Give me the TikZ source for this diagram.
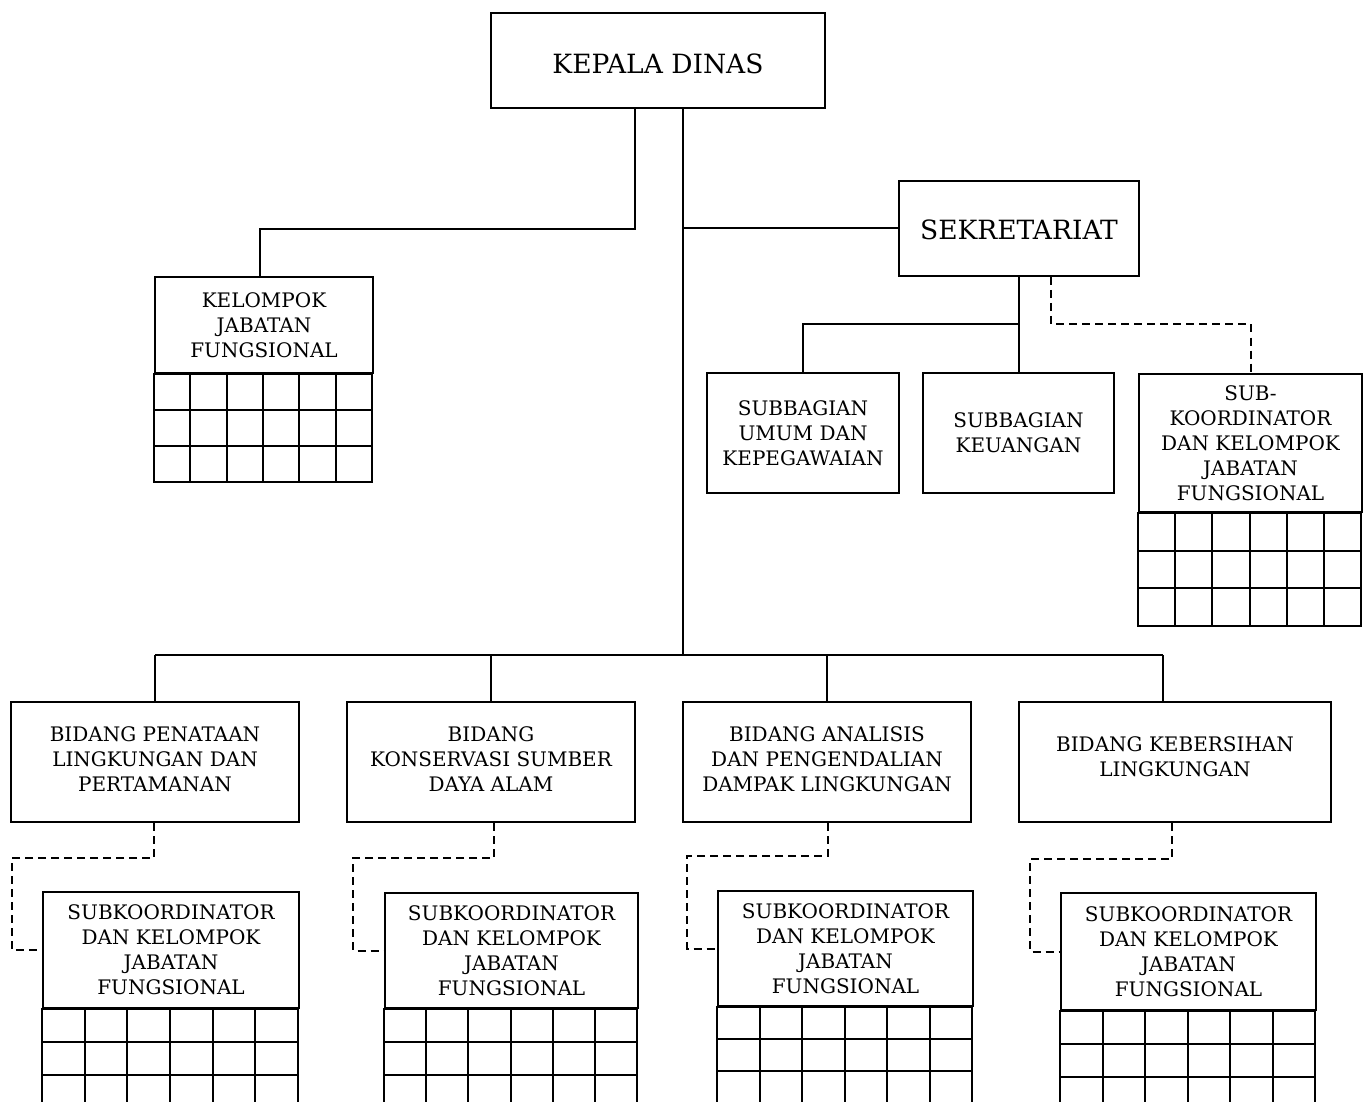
\documentclass[tikz,border=0pt]{standalone}
\usepackage{fontspec}
\setmainfont{DejaVu Serif}
\usetikzlibrary{calc}
\begin{document}
\begin{tikzpicture}[x=1pt,y=-1pt,
  every path/.style={line width=2pt},
  box/.style={draw, line width=2pt, rectangle, inner sep=0pt, align=center,
    font=\fontsize{20}{25}\selectfont},
  bigbox/.style={box, font=\fontsize{26.5}{30}\selectfont},
  dashline/.style={line width=2pt, dash pattern=on 8pt off 5pt},
  gl/.style={line width=2pt}]
\useasboundingbox (0,0) rectangle (1369,1102);
\newcommand\cellgrid[3]{%
  \foreach \c in {0,...,5}{\foreach \r in {0,1,2}{%
    \draw[gl] (#1.south west) ++(\c*#2,\r*#3) rectangle ++(#2,#3);}}}

% nodes
\node[bigbox, minimum width=334pt, minimum height=95pt, text height=27pt] (kd) at (658,60.5) {KEPALA DINAS};
\node[box, minimum width=218pt, minimum height=96pt] (kjf) at (264,325) {KELOMPOK\\JABATAN\\FUNGSIONAL};
\node[bigbox, minimum width=240pt, minimum height=95pt, text height=22pt] (sek) at (1019,228.5) {SEKRETARIAT};
\node[box, minimum width=192pt, minimum height=120pt] (sbu) at (803,433) {SUBBAGIAN\\UMUM DAN\\KEPEGAWAIAN};
\node[box, minimum width=191pt, minimum height=120pt] (sbk) at (1018.5,433) {SUBBAGIAN\\KEUANGAN};
\node[box, minimum width=223pt, minimum height=138pt] (skj) at (1250.5,443) {SUB-\\KOORDINATOR\\DAN KELOMPOK\\JABATAN\\FUNGSIONAL};
\node[box, minimum width=288pt, minimum height=120pt, text depth=6pt] (b1) at (155,762) {BIDANG PENATAAN\\LINGKUNGAN DAN\\PERTAMANAN};
\node[box, minimum width=288pt, minimum height=120pt, text depth=6pt] (b2) at (491,762) {BIDANG\\KONSERVASI SUMBER\\DAYA ALAM};
\node[box, minimum width=288pt, minimum height=120pt, text depth=6pt] (b3) at (827,762) {BIDANG ANALISIS\\DAN PENGENDALIAN\\DAMPAK LINGKUNGAN};
\node[box, minimum width=312pt, minimum height=120pt, text depth=10pt] (b4) at (1175,762) {BIDANG KEBERSIHAN\\LINGKUNGAN};
\node[box, minimum width=256pt, minimum height=116pt] (s1) at (171,950) {SUBKOORDINATOR\\DAN KELOMPOK\\JABATAN\\FUNGSIONAL};
\node[box, minimum width=253pt, minimum height=115pt] (s2) at (511.5,950.5) {SUBKOORDINATOR\\DAN KELOMPOK\\JABATAN\\FUNGSIONAL};
\node[box, minimum width=255pt, minimum height=115pt] (s3) at (845.5,948.5) {SUBKOORDINATOR\\DAN KELOMPOK\\JABATAN\\FUNGSIONAL};
\node[box, minimum width=255pt, minimum height=117pt] (s4) at (1188.5,951.5) {SUBKOORDINATOR\\DAN KELOMPOK\\JABATAN\\FUNGSIONAL};

% grids
\cellgrid{kjf}{36.33}{36}
\cellgrid{skj}{37.17}{37.7}
\cellgrid{s1}{42.67}{33}
\cellgrid{s2}{42.17}{33}
\cellgrid{s3}{42.5}{32}
\cellgrid{s4}{42.5}{33}

% junction coordinates
\coordinate (jl) at (635,229);
\coordinate (jk) at (260,229);
\coordinate (trunk) at (683,655);
\coordinate (d1) at (155,655);
\coordinate (d2) at (491,655);
\coordinate (d3) at (827,655);
\coordinate (d4) at (1163,655);
\coordinate (sj) at (1019,324);
\coordinate (sd) at (1051,324);

% solid connectors
\draw (kd.south -| jl) -- (jl) -- (jk) -- (kjf.north -| jk);
\draw (kd.south -| trunk) -- (trunk);
\draw (sek.west) -- (sek.west -| trunk);
\draw (d1) -- (d4);
\draw (d1) -- (b1.north -| d1);
\draw (d2) -- (b2.north -| d2);
\draw (d3) -- (b3.north -| d3);
\draw (d4) -- (b4.north -| d4);
\draw (sek.south) -- (sbk.north -| sek.south);
\draw (sj) -| (sbu.north);

% dashed connectors
\draw[dashline] (sek.south -| sd) -- (sd) -| (skj.north);
\coordinate (t1) at (154,858); \coordinate (k1) at (12,858);
\coordinate (t2) at (494,858); \coordinate (k2) at (353,858);
\coordinate (t3) at (828,856); \coordinate (k3) at (687,856);
\coordinate (t4) at (1172,859); \coordinate (k4) at (1030,859);
\draw[dashline] (b1.south -| t1) -- (t1) -- (k1) |- (s1.west);
\draw[dashline] (b2.south -| t2) -- (t2) -- (k2) |- (s2.west);
\draw[dashline] (b3.south -| t3) -- (t3) -- (k3) |- (s3.west);
\draw[dashline] (b4.south -| t4) -- (t4) -- (k4) |- (s4.west);
\end{tikzpicture}
\end{document}
